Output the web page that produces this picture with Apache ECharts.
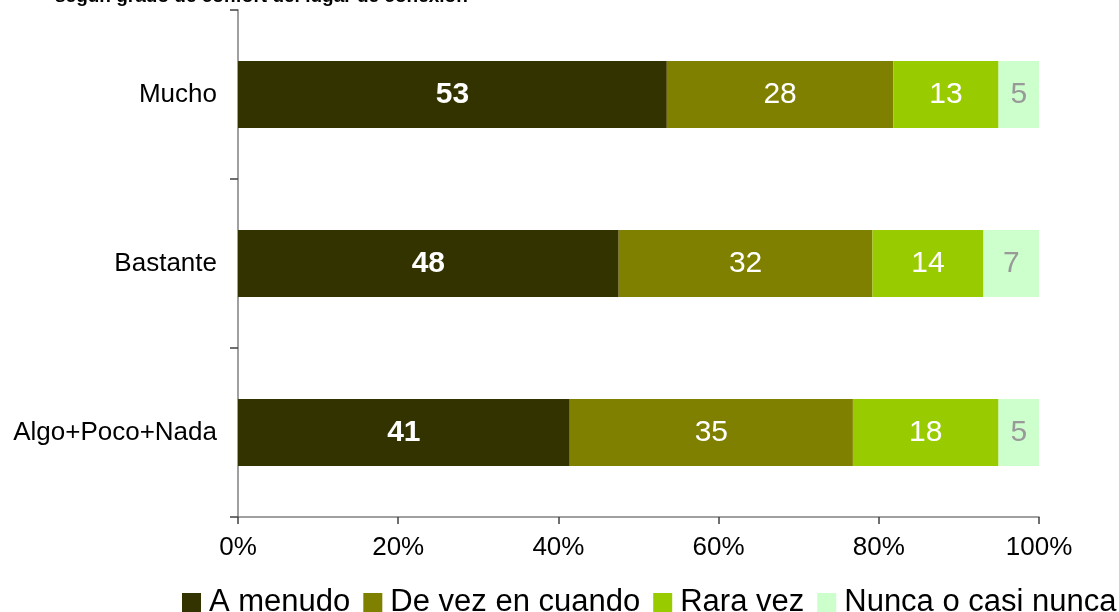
<!DOCTYPE html>
<html>
<head>
<meta charset="utf-8">
<script src="https://cdn.jsdelivr.net/npm/echarts@6/dist/echarts.min.js"></script>
<style>
  html, body { margin: 0; padding: 0; background: #ffffff; }
  #chart { width: 1119px; height: 612px; }
</style>
</head>
<body>
<div id="chart"></div>
<script>
// Frecuencia de uso según grado de confort del lugar de conexión (%)
const categories = ['Mucho', 'Bastante', 'Algo+Poco+Nada'];
const seriesNames = ['A menudo', 'De vez en cuando', 'Rara vez', 'Nunca o casi nunca'];
const aMenudo = [53, 48, 41];
const deVezEnCuando = [28, 32, 35];
const raraVez = [13, 14, 18];
const nunca = [5, 7, 5];
const xTicks = ['0%', '20%', '40%', '60%', '80%', '100%'];

const seriesValues = [aMenudo, deVezEnCuando, raraVez, nunca];
const colors = ['#333300', '#808000', '#99CC00', '#CCFFCC'];
const labelColors = ['#ffffff', '#ffffff', '#ffffff', '#999999'];
const FONT = '"Liberation Sans", Arial, sans-serif';

// Each row is shown as a 100% stacked bar: a segment's length is its share of the row total
const rowTotals = categories.map((_, i) => seriesValues.reduce((s, arr) => s + arr[i], 0));

const chart = echarts.init(document.getElementById('chart'));
chart.setOption({
  animation: false,
  textStyle: { fontFamily: FONT },
  title: {
    text: 'según grado de confort del lugar de conexión',
    left: 55,
    top: -13,
    padding: 0,
    textStyle: { fontFamily: FONT, fontSize: 19, fontWeight: 'bold', color: '#000000' }
  },
  grid: { left: 238, right: 80, top: 10, bottom: 95 },
  xAxis: {
    type: 'value',
    min: 0,
    max: 100,
    interval: 20,
    axisLine: { show: true, lineStyle: { color: '#808080', width: 1.5 } },
    axisTick: { show: true, length: 7, lineStyle: { color: '#404040', width: 1.5 } },
    splitLine: { show: false },
    axisLabel: {
      margin: 18,
      fontSize: 26,
      color: '#000000',
      fontFamily: FONT,
      formatter: (v) => xTicks[Math.round(v / 20)]
    }
  },
  yAxis: {
    type: 'category',
    data: categories,
    inverse: true,
    axisLine: { show: true, lineStyle: { color: '#808080', width: 1.5 } },
    axisTick: { show: true, length: 8, lineStyle: { color: '#404040', width: 1.5 } },
    axisLabel: { margin: 21, fontSize: 26, color: '#000000', fontFamily: FONT }
  },
  legend: {
    bottom: -6,
    left: 182,
    width: 1000,
    padding: 0,
    itemWidth: 19,
    itemHeight: 19,
    itemGap: 13,
    icon: 'rect',
    textStyle: { fontSize: 31, color: '#000000', fontFamily: FONT, padding: [0, 0, 0, 3] },
    data: seriesNames
  },
  series: seriesNames.map((name, k) => ({
    name,
    type: 'bar',
    stack: 'total',
    barWidth: 67,
    itemStyle: { color: colors[k] },
    label: {
      show: true,
      position: 'inside',
      fontSize: 30,
      fontFamily: FONT,
      fontWeight: k === 0 ? 'bold' : 'normal',
      color: labelColors[k],
      formatter: (p) => String(seriesValues[k][p.dataIndex])
    },
    data: seriesValues[k].map((v, i) => v / rowTotals[i] * 100)
  }))
});
</script>
</body>
</html>
